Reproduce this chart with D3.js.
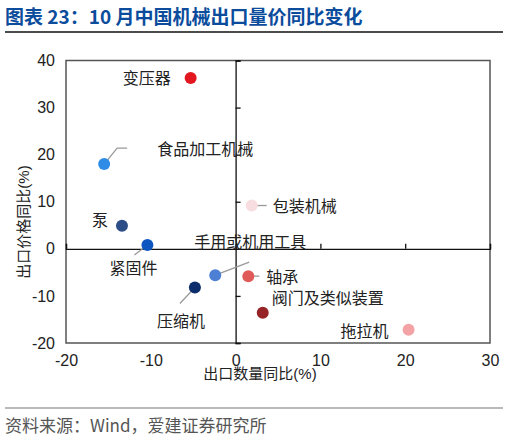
<!DOCTYPE html>
<html>
<head>
<meta charset="utf-8">
<script src="https://cdn.jsdelivr.net/npm/d3@7"></script>
<style>
  body { margin: 0; background: #fff; }
  text { font-family: "Liberation Sans", "Noto Sans CJK SC", sans-serif; }
</style>
</head>
<body>
<div id="chart-area"></div>
<script>

// Data
var names = ["变压器", "食品加工机械", "包装机械", "泵", "紧固件",
             "手用或机用工具", "轴承", "压缩机", "阀门及类似装置", "拖拉机"];
var qtyYoY = [-5.3, -15.5, 1.9, -13.4, -10.4, -2.4, 1.5, -4.8, 3.2, 20.4];
var priceYoY = [36.3, 18.0, 9.2, 4.9, 0.8, -5.6, -5.8, -8.2, -13.6, -17.2];
var xTicks = [-20, -10, 0, 10, 20, 30];
var yTicks = [-20, -10, 0, 10, 20, 30, 40];

var colors = ["#e3171f", "#2e8be6", "#f8dde0", "#2d4d86", "#0d56c0",
              "#4d80d4", "#e05a5a", "#0c2c6b", "#962426", "#f3a3a5"];

// label placement (pixel offsets from the dot), leader line points
var labelPos = {
  "变压器":        {dx: -20, dy: 0,   anchor: "end"},
  "食品加工机械":   {dx: 53,  dy: -15, anchor: "start", lead: [[13, -16], [23, -16]]},
  "包装机械":      {dx: 21,  dy: 1,   anchor: "start", lead: [[15, 0]]},
  "泵":           {dx: -14, dy: -6,  anchor: "end"},
  "紧固件":        {dx: -38, dy: 23,  anchor: "start", lead: [[-13, 10]]},
  "手用或机用工具": {dx: -21, dy: -33, anchor: "start", lead: [[34, -13]]},
  "轴承":          {dx: 18,  dy: 1,   anchor: "start", lead: [[11, 0]]},
  "压缩机":        {dx: -38, dy: 34,  anchor: "start", lead: [[-15, 16]]},
  "阀门及类似装置": {dx: 9,   dy: -15, anchor: "start"},
  "拖拉机":        {dx: -20, dy: 1,   anchor: "end"}
};

var data = names.map(function(n, i) {
  return {name: n, x: qtyYoY[i], y: priceYoY[i], color: colors[i]};
});

var W = 519, H = 439;
var margin = {top: 60.5, right: 29, bottom: 96, left: 66};
var width = W - margin.left - margin.right,
    height = H - margin.top - margin.bottom;

var svg = d3.select("#chart-area").append("svg")
    .attr("width", W)
    .attr("height", H);

// title
svg.append("text")
    .attr("x", 5).attr("y", 24)
    .style("font-family", "'Noto Sans CJK SC', sans-serif")
    .style("font-weight", "bold")
    .style("font-size", "19px")
    .attr("fill", "#0b4c9c")
    .text("图表 23：10 月中国机械出口量价同比变化");
svg.append("line")
    .attr("x1", 5).attr("x2", 503).attr("y1", 32).attr("y2", 32)
    .attr("stroke", "#111").attr("stroke-width", 1.6);

// footer
svg.append("line")
    .attr("x1", 5).attr("x2", 503).attr("y1", 408).attr("y2", 408)
    .attr("stroke", "#777").attr("stroke-width", 1.2);
svg.append("text")
    .attr("x", 5).attr("y", 432)
    .style("font-family", "'Noto Sans CJK SC', sans-serif")
    .style("font-size", "17px")
    .attr("fill", "#555")
    .text("资料来源：Wind，爱建证券研究所");

var g = svg.append("g")
    .attr("transform", "translate(" + margin.left + "," + margin.top + ")");

// Scales
var x = d3.scaleLinear().domain([-20, 30]).range([0, width]);
var y = d3.scaleLinear().domain([-20, 40]).range([height, 0]);

// plain hyphen for negatives, like the original
var fmt = function(d) { return String(d); };

// tick labels on the outside of the box
var xAxis = g.append("g")
    .attr("transform", "translate(0," + height + ")")
    .call(d3.axisBottom(x).tickValues(xTicks).tickSize(0).tickPadding(12).tickFormat(fmt));
var yAxis = g.append("g")
    .call(d3.axisLeft(y).tickValues(yTicks).tickSize(0).tickPadding(11).tickFormat(fmt));
[xAxis, yAxis].forEach(function(a) {
  a.select(".domain").remove();
  a.selectAll("text").style("font-size", "16px").attr("fill", "#222");
});

// box
g.append("rect")
    .attr("width", width).attr("height", height)
    .attr("fill", "none").attr("stroke", "#555").attr("stroke-width", 1.5);

// axes crossing at zero with small tick marks
var x0 = g.append("g")
    .attr("transform", "translate(0," + y(0) + ")")
    .call(d3.axisBottom(x).tickValues(xTicks).tickSize(-5).tickFormat(""));
var y0 = g.append("g")
    .attr("transform", "translate(" + x(0) + ",0)")
    .call(d3.axisRight(y).tickValues(yTicks).tickSize(5).tickFormat(""));
[x0, y0].forEach(function(a) {
  a.select(".domain").attr("stroke", "#111").attr("stroke-width", 1.3);
  a.selectAll(".tick line").attr("stroke", "#111").attr("stroke-width", 1.3);
});

// axis titles
svg.append("text")
    .attr("x", 260).attr("y", 379)
    .attr("text-anchor", "middle")
    .style("font-size", "15px")
    .attr("fill", "#222")
    .text("出口数量同比(%)");
svg.append("text")
    .attr("transform", "translate(29,222) rotate(-90)")
    .attr("text-anchor", "middle")
    .style("font-size", "15px")
    .attr("fill", "#222")
    .text("出口价格同比(%)");

// leader lines
data.forEach(function(d) {
  var p = labelPos[d.name];
  if (!p.lead) return;
  var pts = [[x(d.x), y(d.y)]].concat(p.lead.map(function(o) {
    return [x(d.x) + o[0], y(d.y) + o[1]];
  }));
  g.append("path")
      .attr("d", d3.line()(pts))
      .attr("fill", "none")
      .attr("stroke", "#9a9a9a")
      .attr("stroke-width", 1.3);
});

// points
g.selectAll("circle.pt").data(data).enter().append("circle")
    .attr("class", "pt")
    .attr("cx", function(d) { return x(d.x); })
    .attr("cy", function(d) { return y(d.y); })
    .attr("r", 6)
    .attr("fill", function(d) { return d.color; });

// labels
g.selectAll("text.lbl").data(data).enter().append("text")
    .attr("class", "lbl")
    .attr("x", function(d) { return x(d.x) + labelPos[d.name].dx; })
    .attr("y", function(d) { return y(d.y) + labelPos[d.name].dy; })
    .attr("dy", "0.36em")
    .attr("text-anchor", function(d) { return labelPos[d.name].anchor; })
    .style("font-family", "'Noto Sans CJK SC', sans-serif")
    .style("font-size", "16px")
    .attr("fill", "#222")
    .text(function(d) { return d.name; });

</script>
</body>
</html>
